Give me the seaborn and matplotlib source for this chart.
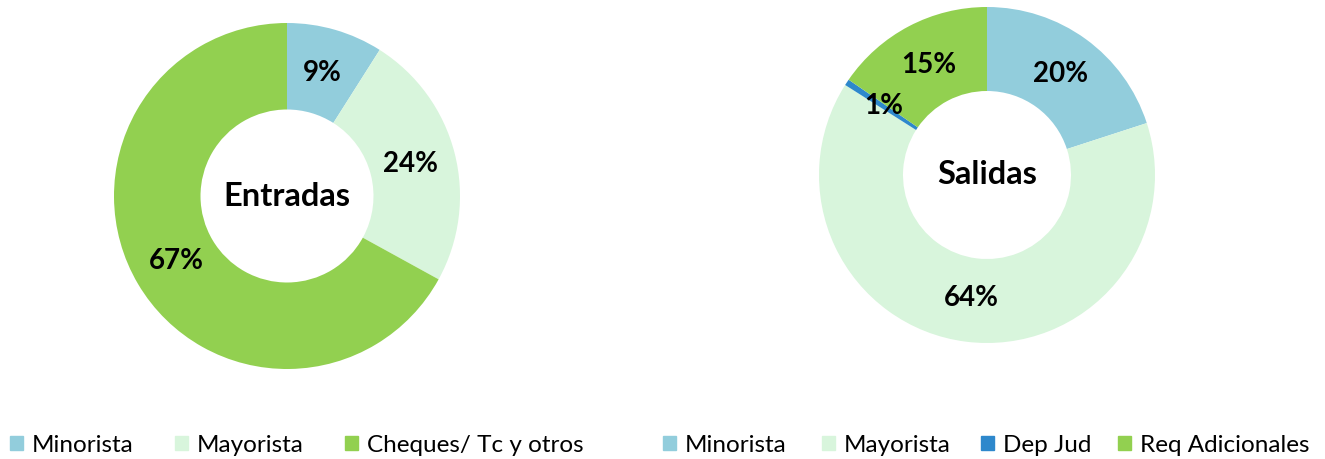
import matplotlib
matplotlib.use("Agg")
import matplotlib.pyplot as plt
import matplotlib.patches as mpatches
import seaborn as sns

# data
in_labels = ["Minorista", "Mayorista", "Cheques/ Tc y otros"]
in_values = [9, 24, 67]
out_labels = ["Minorista", "Mayorista", "Dep Jud", "Req Adicionales"]
out_values = [20, 64, 0.6, 15.4]

colors = {
    "Minorista": "#92CDDC",
    "Mayorista": "#D8F5DC",
    "Cheques/ Tc y otros": "#92D050",
    "Dep Jud": "#2E88CC",
    "Req Adicionales": "#92D050",
}

sns.set_theme(style="white")
plt.rcParams["font.family"] = ["Lato", "DejaVu Sans"]

W, H = 1325, 459
fig = plt.figure(figsize=(W / 100, H / 100), dpi=100)


def donut(cx, cy, r, values, labels, title):
    ax = fig.add_axes([(cx - r) / W, (H - cy - r) / H, 2 * r / W, 2 * r / H])
    ax.pie(values, colors=[colors[l] for l in labels], startangle=90, counterclock=False,
           radius=1, wedgeprops=dict(width=0.5, linewidth=0),
           autopct=lambda p: f"{round(p):.0f}%", pctdistance=0.74,
           textprops=dict(fontsize=20, fontweight="bold", color="black"))
    ax.text(0, 0, title, ha="center", va="center", fontsize=23.5, fontweight="bold",
            color="black")
    ax.set_xlim(-1, 1)
    ax.set_ylim(-1, 1)
    ax.set_axis_off()


donut(287, 196, 173, in_values, in_labels, "Entradas")
donut(987, 175, 168, out_values, out_labels, "Salidas")

# legend entries placed one by one (x of the colour square in pixels)
in_legend_x = [10, 175, 345]
out_legend_x = [663, 822, 981, 1118]


def legend(labels, xs):
    for lab, x in zip(labels, xs):
        fig.legend(handles=[mpatches.Patch(color=colors[lab], label=lab)],
                   loc="center left", bbox_to_anchor=(x / W, 1 - 445 / H),
                   frameon=False, fontsize=17.5, labelcolor="black",
                   handlelength=0.54, handleheight=0.54, handletextpad=0.36,
                   borderaxespad=0, borderpad=0)


legend(in_labels, in_legend_x)
legend(out_labels, out_legend_x)

fig.savefig("out.png", dpi=100)
